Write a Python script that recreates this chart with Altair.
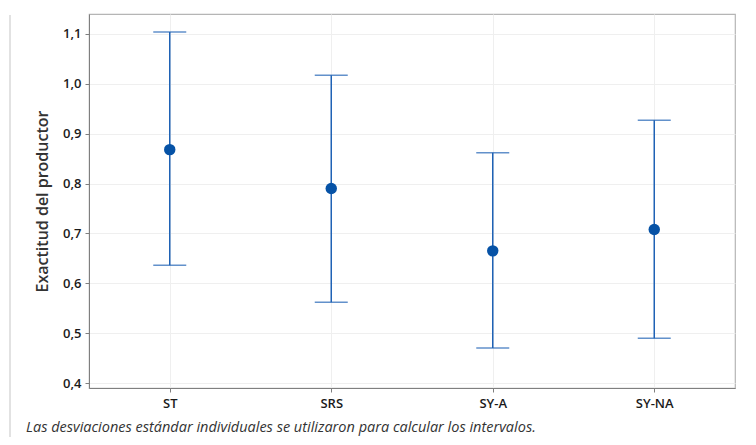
import altair as alt
import pandas as pd

categories = ["ST", "SRS", "SY-A", "SY-NA"]
means = [0.868, 0.790, 0.665, 0.708]
lowers = [0.636, 0.562, 0.470, 0.490]
uppers = [1.104, 1.017, 0.862, 0.927]
y_ticks = [0.4, 0.5, 0.6, 0.7, 0.8, 0.9, 1.0, 1.1]
footnote = "Las desviaciones estándar individuales se utilizaron para calcular los intervalos."

df = pd.DataFrame({"cat": categories, "mean": means, "lo": lowers, "hi": uppers})

FONT = "Open Sans"
LINE = "#1f62b5"
DOT = "#0652a6"

x = alt.X("cat:N", sort=categories, title=None,
          scale=alt.Scale(type="point", padding=0.5),
          axis=alt.Axis(labelAngle=0, grid=True, gridColor="#efefef", domainColor="#7f7f7f",
                        tickColor="#7f7f7f", tickSize=4, labelFontSize=13, labelFont=FONT,
                        labelFontWeight=600, labelColor="#1a1a1a", labelPadding=5))
yscale = alt.Scale(domain=[0.39, 1.14], nice=False, zero=False)
yaxis = alt.Axis(values=y_ticks, labelExpr="replace(format(datum.value, '.1f'), '.', ',')",
                 grid=True, gridColor="#efefef", domainColor="#7f7f7f", tickColor="#7f7f7f",
                 tickSize=4, labelFontSize=13, labelFont=FONT, labelFontWeight=600,
                 labelColor="#1a1a1a", labelPadding=4,
                 title="Exactitud del productor", titleFont=FONT, titleFontSize=16,
                 titleFontWeight=600, titleColor="#333333", titlePadding=12)

base = alt.Chart(df)
rule = base.mark_rule(color=LINE, strokeWidth=1.5).encode(
    x=x, y=alt.Y("lo:Q", scale=yscale, axis=yaxis), y2="hi:Q")
cap_hi = base.mark_tick(color=LINE, size=33, thickness=1.5).encode(
    x=x, y=alt.Y("hi:Q", scale=yscale))
cap_lo = base.mark_tick(color=LINE, size=33, thickness=1.5).encode(
    x=x, y=alt.Y("lo:Q", scale=yscale))
pts = base.mark_point(filled=True, shape="circle", size=130, color=DOT, opacity=1).encode(
    x=x, y=alt.Y("mean:Q", scale=yscale))

note_df = pd.DataFrame({"t": [footnote]})
note = alt.Chart(note_df).mark_text(align="left", baseline="middle", font=FONT, fontSize=14.5,
                                    fontStyle="italic", color="#333333").encode(
    text="t:N", x=alt.value(-63), y=alt.value(414))
edge = alt.Chart(note_df).mark_rule(color="#d9d9d9", strokeWidth=1.5).encode(
    x=alt.value(-79), y=alt.value(1), y2=alt.value(431))

chart = alt.layer(rule, cap_hi, cap_lo, pts, note, edge).properties(
    width=646, height=374,
    autosize=alt.AutoSizeParams(type="none"),
    padding={"left": 81, "top": 6, "right": 13, "bottom": 49},
).configure_view(stroke="#b5b5b5", strokeWidth=1.2)

chart.save("out.html", embed_options={"renderer": "svg", "actions": False})
